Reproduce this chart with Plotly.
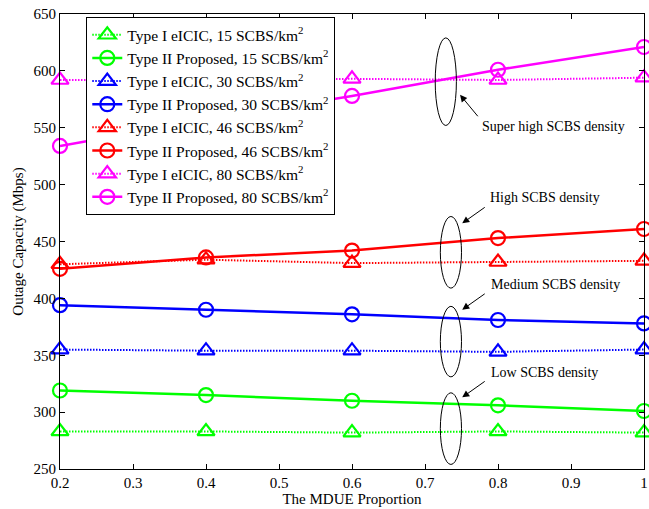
import plotly.graph_objects as go

x_vals = [0.2, 0.4, 0.6, 0.8, 1.0]

typeI_15 = [283, 283, 282, 283, 282]
typeII_15 = [319, 315, 310, 306, 301]
typeI_30 = [355, 354, 354, 353, 355]
typeII_30 = [394, 390, 386, 381, 378]
typeI_46 = [430, 434, 431, 432, 433]
typeII_46 = [426, 436, 442, 453, 461]
typeI_80 = [592, 592, 593, 592, 594]
typeII_80 = [534, 557, 578, 601, 621]

series_names = [
    "Type I eICIC, 15 SCBS/km<sup>2</sup>",
    "Type II Proposed, 15 SCBS/km<sup>2</sup>",
    "Type I eICIC, 30 SCBS/km<sup>2</sup>",
    "Type II Proposed, 30 SCBS/km<sup>2</sup>",
    "Type I eICIC, 46 SCBS/km<sup>2</sup>",
    "Type II Proposed, 46 SCBS/km<sup>2</sup>",
    "Type I eICIC, 80 SCBS/km<sup>2</sup>",
    "Type II Proposed, 80 SCBS/km<sup>2</sup>",
]
series_values = [typeI_15, typeII_15, typeI_30, typeII_30, typeI_46, typeII_46, typeI_80, typeII_80]
colors = ["#00FF00", "#00FF00", "#0000FF", "#0000FF", "#FF0000", "#FF0000", "#FF00FF", "#FF00FF"]

x_ticks = [0.2, 0.3, 0.4, 0.5, 0.6, 0.7, 0.8, 0.9, 1.0]
x_tick_labels = ["0.2", "0.3", "0.4", "0.5", "0.6", "0.7", "0.8", "0.9", "1"]
y_ticks = [250, 300, 350, 400, 450, 500, 550, 600, 650]

group_labels = ["Super high SCBS density", "High SCBS density", "Medium SCBS density", "Low SCBS density"]

FONT = "Liberation Serif, Times New Roman, serif"

fig = go.Figure()
for i, (name, vals, col) in enumerate(zip(series_names, series_values, colors)):
    is_type1 = (i % 2 == 0)
    fig.add_trace(go.Scatter(
        x=x_vals, y=vals, name=name, mode="lines+markers",
        line=dict(color=col, width=2 if is_type1 else 2.5, dash="1.5px,1.5px" if is_type1 else "solid"),
        marker=dict(symbol="triangle-up-open" if is_type1 else "circle-open",
                    size=15 if is_type1 else 14, color=col, line=dict(color=col, width=2.2)),
        cliponaxis=False,
    ))

# ellipses (data coords)
ellipses = [
    (0.714, 0.743, 552, 629),
    (0.721, 0.750, 409, 472),
    (0.721, 0.750, 331, 393),
    (0.721, 0.750, 254, 317),
]
for x0, x1, y0, y1 in ellipses:
    fig.add_shape(type="circle", xref="x", yref="y", x0=x0, x1=x1, y0=y0, y1=y1,
                  line=dict(color="black", width=1))

# arrows
arrows = [
    (0.748, 579, 19, 23),
    (0.751, 466, 24, -17),
    (0.751, 390, 24, -17),
    (0.751, 313, 24, -17),
]
for ax_x, ax_y, dx, dy in arrows:
    fig.add_annotation(x=ax_x, y=ax_y, text="", showarrow=True, ax=dx, ay=dy,
                       arrowhead=2, arrowsize=1.4, arrowwidth=1, arrowcolor="black")

text_pos = [(0.775, 551), (0.786, 489), (0.788, 412), (0.788, 335)]
for label, (tx, ty) in zip(group_labels, text_pos):
    fig.add_annotation(x=tx, y=ty, text=label, showarrow=False, xanchor="left", yanchor="middle",
                       font=dict(family=FONT, size=14, color="black"), bgcolor="white")

fig.update_layout(
    width=649, height=509,
    margin=dict(l=60, r=1, t=14, b=40),
    paper_bgcolor="white", plot_bgcolor="white",
    font=dict(family=FONT, size=15, color="black"),
    showlegend=True,
    legend=dict(x=0.045, y=0.993, xanchor="left", yanchor="top",
                bgcolor="white", bordercolor="black", borderwidth=1,
                font=dict(family=FONT, size=15.5), tracegroupgap=0, itemwidth=30),
)
fig.update_xaxes(range=[0.2, 1.0], tickvals=x_ticks, ticktext=x_tick_labels,
                 showline=True, linecolor="black", linewidth=1, mirror="ticks",
                 ticks="inside", ticklen=5, tickcolor="black", showgrid=False, zeroline=False,
                 ticklabeloverflow="allow",
                 title=dict(text="The MDUE Proportion", standoff=2, font=dict(size=15)),
                 tickfont=dict(size=15))
fig.update_yaxes(range=[250, 650], tickvals=y_ticks,
                 showline=True, linecolor="black", linewidth=1, mirror="ticks",
                 ticks="inside", ticklen=5, tickcolor="black", showgrid=False, zeroline=False,
                 ticklabeloverflow="allow",
                 title=dict(text="Outage Capacity (Mbps)", standoff=6, font=dict(size=15)),
                 tickfont=dict(size=15))

fig.write_html("out.html", config={"displayModeBar": False},
               post_script="document.body.style.margin='0';document.body.style.padding='0';")
